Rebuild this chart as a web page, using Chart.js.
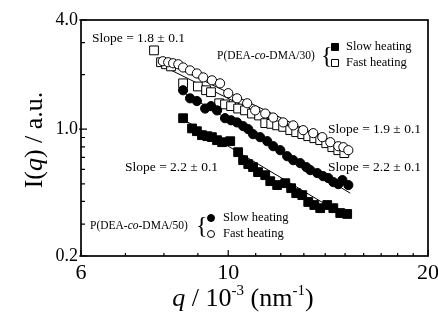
<!DOCTYPE html>
<html>
<head>
<meta charset="utf-8">
<script src="https://cdn.jsdelivr.net/npm/chart.js@4.4.1/dist/chart.umd.min.js"></script>
<style>
  html, body { margin: 0; padding: 0; background: #fff; }
  #wrap { width: 438px; height: 324px; }
</style>
</head>
<body>
<div id="wrap"><canvas id="chart" width="438" height="324"></canvas></div>
<script>
'use strict';

// q in 10^-3 nm^-1, I(q) in a.u.
const qSlow30 = [8.55, 8.82, 8.97, 9.13, 9.30, 9.45, 9.62, 9.79, 10.07, 10.35, 10.53, 10.72, 10.90, 11.09, 11.37, 11.57, 11.85, 12.19, 12.44, 12.66, 12.93, 13.20, 13.48, 13.76, 14.10, 14.40, 14.75, 15.11];
const iSlow30 = [1.15, 1.01, 0.975, 0.927, 0.915, 0.904, 0.870, 0.848, 0.859, 0.747, 0.675, 0.642, 0.618, 0.580, 0.558, 0.517, 0.492, 0.504, 0.473, 0.444, 0.433, 0.397, 0.382, 0.367, 0.382, 0.367, 0.345, 0.341];

const qFast30 = [7.73, 7.92, 8.06, 8.20, 8.55, 9.00, 9.26, 9.42, 9.69, 9.89, 10.10, 10.35, 10.60, 10.86, 11.13, 11.37, 11.61, 11.85, 12.10, 12.40, 12.66, 12.93, 13.20, 13.48, 13.76, 14.05, 14.35, 14.65, 14.96];
const iFast30 = [2.72, 2.34, 2.28, 2.22, 1.79, 1.72, 1.64, 1.60, 1.39, 1.37, 1.34, 1.30, 1.27, 1.22, 1.19, 1.08, 1.07, 1.05, 1.03, 0.988, 0.963, 0.939, 0.915, 0.892, 0.870, 0.837, 0.796, 0.766, 0.738];

const qSlow50 = [8.55, 8.76, 8.97, 9.23, 9.42, 9.62, 9.89, 10.10, 10.31, 10.53, 10.72, 10.90, 11.17, 11.45, 11.69, 11.98, 12.27, 12.53, 12.84, 13.11, 13.29, 13.62, 13.90, 14.15, 14.40, 14.65, 14.86, 15.17];
const iSlow50 = [1.64, 1.48, 1.43, 1.30, 1.34, 1.27, 1.15, 1.12, 1.09, 1.04, 1.00, 0.939, 0.904, 0.859, 0.806, 0.766, 0.710, 0.675, 0.650, 0.618, 0.595, 0.573, 0.551, 0.538, 0.511, 0.498, 0.524, 0.492];

const qFast50 = [7.97, 8.12, 8.26, 8.41, 8.55, 8.76, 8.97, 9.17, 9.45, 9.72, 10.00, 10.31, 10.68, 10.98, 11.37, 11.69, 12.10, 12.53, 12.97, 13.43, 13.86, 14.25, 14.65, 14.91, 15.17];
const iFast50 = [2.37, 2.34, 2.31, 2.28, 2.19, 2.11, 2.03, 1.93, 1.86, 1.79, 1.58, 1.48, 1.39, 1.27, 1.22, 1.16, 1.09, 1.05, 0.988, 0.951, 0.904, 0.848, 0.806, 0.796, 0.766];

// power-law fit lines, end points
const qFitFast50 = [7.92, 15.17];
const iFitFast50 = [2.40, 0.766];
const qFitFast30 = [7.81, 15.01];
const iFitFast30 = [2.31, 0.710];
const qFitSlow50 = [8.55, 15.27];
const iFitSlow50 = [1.60, 0.444];
const qFitSlow30 = [8.55, 14.50];
const iFitSlow30 = [1.135, 0.358];

const xTickLabels = [6, 10, 20];
const yTickLabels = [0.2, 1.0, 4.0];
const xMinorTicks = [7, 8, 9, 11, 12, 13, 14, 15, 16, 17, 18, 19];
const yMinorTicks = [0.3, 0.4, 0.5, 0.6, 0.7, 0.8, 0.9, 2, 3];

const SERIF = "'Liberation Serif', 'Times New Roman', serif";

function pts(qs, is) {
    return qs.map((q, k) => ({x: q, y: is[k]}));
}

function markerSet(label, qs, is, style, filled, r) {
    return {
        label: label,
        data: pts(qs, is),
        pointStyle: style,
        pointRadius: r,
        pointHoverRadius: r,
        pointBorderWidth: 1,
        pointBorderColor: '#000',
        pointBackgroundColor: filled ? '#000' : '#fff',
        showLine: false,
        order: 1
    };
}

function fitSet(label, qs, is) {
    return {
        label: label,
        data: pts(qs, is),
        showLine: true,
        borderColor: '#000',
        borderWidth: 1,
        pointRadius: 0,
        order: 2
    };
}

function drawMarker(ctx, style, filled, x, y, r) {
    ctx.save();
    ctx.lineWidth = 1;
    ctx.strokeStyle = '#000';
    ctx.fillStyle = filled ? '#000' : '#fff';
    ctx.beginPath();
    if (style === 'rect') {
        ctx.rect(x - r, y - r, 2 * r, 2 * r);
    } else {
        ctx.arc(x, y, r, 0, Math.PI * 2);
    }
    ctx.fill();
    ctx.stroke();
    ctx.restore();
}

// mixed-font text run, centred or left aligned at x
function drawRun(ctx, parts, x, y, centre) {
    let total = 0;
    parts.forEach(p => { ctx.font = p.f; p.w = ctx.measureText(p.t).width; total += p.w; });
    let cx = centre ? x - total / 2 : x;
    ctx.textAlign = 'left';
    parts.forEach(p => {
        ctx.font = p.f;
        ctx.fillText(p.t, cx, y + (p.dy || 0));
        cx += p.w;
    });
}

const framePlugin = {
    id: 'frame',
    afterDraw(chart) {
        const ctx = chart.ctx;
        const a = chart.chartArea;
        const xs = chart.scales.x;
        const ys = chart.scales.y;
        ctx.save();

        // frame
        ctx.strokeStyle = '#000';
        ctx.lineWidth = 1.7;
        ctx.strokeRect(a.left, a.top, a.right - a.left, a.bottom - a.top);

        // inward ticks
        ctx.lineWidth = 1.2;
        ctx.beginPath();
        xTickLabels.forEach(v => {
            const px = xs.getPixelForValue(v);
            ctx.moveTo(px, a.bottom); ctx.lineTo(px, a.bottom - 6);
        });
        xMinorTicks.forEach(v => {
            const px = xs.getPixelForValue(v);
            ctx.moveTo(px, a.bottom); ctx.lineTo(px, a.bottom - 3);
        });
        yTickLabels.forEach(v => {
            const py = ys.getPixelForValue(v);
            ctx.moveTo(a.left - 2, py); ctx.lineTo(a.left + 6, py);
        });
        yMinorTicks.forEach(v => {
            const py = ys.getPixelForValue(v);
            ctx.moveTo(a.left, py); ctx.lineTo(a.left + 4, py);
        });
        ctx.stroke();

        // tick labels
        ctx.fillStyle = '#000';
        ctx.font = '18px ' + SERIF;
        ctx.textAlign = 'right';
        ctx.textBaseline = 'middle';
        yTickLabels.forEach(v => {
            ctx.fillText(v.toFixed(1), a.left - 3, ys.getPixelForValue(v));
        });
        ctx.font = '22px ' + SERIF;
        ctx.textAlign = 'center';
        ctx.textBaseline = 'alphabetic';
        xTickLabels.forEach(v => {
            ctx.fillText(String(v), xs.getPixelForValue(v), a.bottom + 23);
        });

        // axis titles
        drawRun(ctx, [
            {t: 'q', f: 'italic 26px ' + SERIF},
            {t: ' / 10', f: '26px ' + SERIF},
            {t: '-3', f: '15px ' + SERIF, dy: -11},
            {t: ' (nm', f: '26px ' + SERIF},
            {t: '-1', f: '15px ' + SERIF, dy: -11},
            {t: ')', f: '26px ' + SERIF}
        ], 243, 306, true);

        ctx.save();
        ctx.translate(42, 140);
        ctx.rotate(-Math.PI / 2);
        drawRun(ctx, [
            {t: 'I(', f: '26px ' + SERIF},
            {t: 'q', f: 'italic 26px ' + SERIF},
            {t: ') / a.u.', f: '26px ' + SERIF}
        ], 0, 0, true);
        ctx.restore();

        // slope notes
        ctx.textAlign = 'left';
        ctx.textBaseline = 'middle';
        ctx.font = '13.5px ' + SERIF;
        ctx.fillText('Slope = 1.8 \u00b1 0.1', 92, 38);
        ctx.fillText('Slope = 1.9 \u00b1 0.1', 328, 129);
        ctx.fillText('Slope = 2.2 \u00b1 0.1', 328, 167);
        ctx.fillText('Slope = 2.2 \u00b1 0.1', 125, 167);

        // legends
        const pf = '11.5px ' + SERIF;
        const pfi = 'italic 11.5px ' + SERIF;
        drawRun(ctx, [{t: 'P(DEA-', f: pf}, {t: 'co', f: pfi}, {t: '-DMA/30)', f: pf}], 217, 56, false);
        drawRun(ctx, [{t: 'P(DEA-', f: pf}, {t: 'co', f: pfi}, {t: '-DMA/50)', f: pf}], 90, 226, false);

        ctx.font = '24px ' + SERIF;
        ctx.fillText('{', 321, 57);
        ctx.fillText('{', 196, 227);

        drawMarker(ctx, 'rect', true, 335, 47, 3.5);
        drawMarker(ctx, 'rect', false, 335, 63, 3.5);
        drawMarker(ctx, 'circle', true, 211, 218, 3.5);
        drawMarker(ctx, 'circle', false, 211, 234, 3.5);

        ctx.fillStyle = '#000';
        ctx.font = '12.5px ' + SERIF;
        ctx.fillText('Slow heating', 346, 47);
        ctx.fillText('Fast heating', 346, 63);
        ctx.fillText('Slow heating', 223, 218);
        ctx.fillText('Fast heating', 223, 234);

        ctx.restore();
    }
};

new Chart(document.getElementById('chart'), {
    type: 'scatter',
    data: {
        datasets: [
            fitSet('fit fast 50', qFitFast50, iFitFast50),
            fitSet('fit fast 30', qFitFast30, iFitFast30),
            fitSet('fit slow 50', qFitSlow50, iFitSlow50),
            fitSet('fit slow 30', qFitSlow30, iFitSlow30),
            markerSet('P(DEA-co-DMA/30) Slow heating', qSlow30, iSlow30, 'rect', true, 6.2),
            markerSet('P(DEA-co-DMA/50) Slow heating', qSlow50, iSlow50, 'circle', true, 4.6),
            markerSet('P(DEA-co-DMA/50) Fast heating', qFast50, iFast50, 'circle', false, 4.6),
            markerSet('P(DEA-co-DMA/30) Fast heating', qFast30, iFast30, 'rect', false, 6.2)
        ]
    },
    options: {
        responsive: false,
        devicePixelRatio: 1,
        animation: false,
        layout: {
            padding: {left: 81, right: 10, top: 20, bottom: 68}
        },
        plugins: {
            legend: {display: false},
            tooltip: {enabled: false}
        },
        scales: {
            x: {type: 'logarithmic', min: 6, max: 20, display: false},
            y: {type: 'logarithmic', min: 0.2, max: 4, display: false}
        }
    },
    plugins: [framePlugin]
});
</script>
</body>
</html>
